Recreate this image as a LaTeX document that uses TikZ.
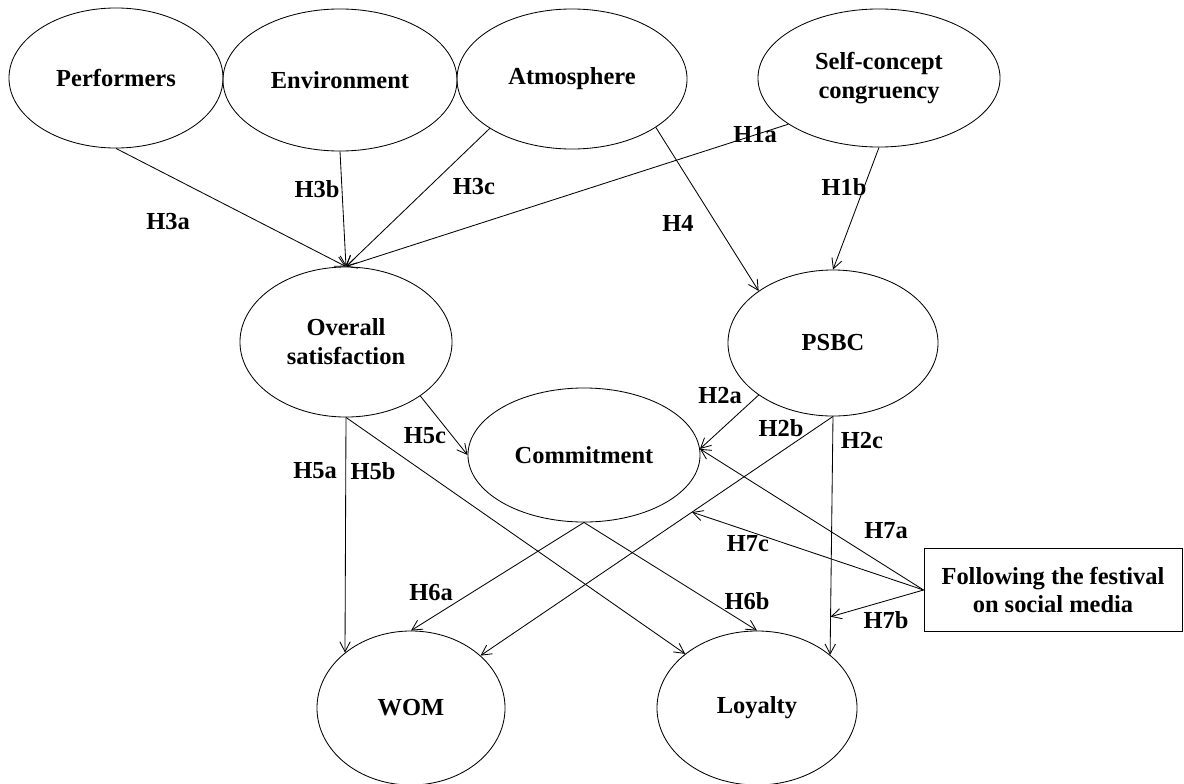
\documentclass[tikz,border=0pt]{standalone}
\usepackage{fontspec}
\setmainfont{Liberation Serif}
\usetikzlibrary{shapes.geometric,arrows.meta}

\begin{document}
\begin{tikzpicture}[x=0.025cm, y=-0.025cm,
        construct/.style={draw=black, ellipse, inner sep=0pt, line width=0.6pt, align=center, font=\fontsize{17.4}{20.5}\selectfont\bfseries},
        moderator/.style={draw=black, rectangle, inner sep=0pt, line width=0.6pt, align=center, font=\fontsize{17.4}{20}\selectfont\bfseries},
        hyp/.style={inner sep=0pt, font=\fontsize{17.4}{20}\selectfont\bfseries},
        link/.style={draw=black, line width=0.6pt, -{Straight Barb[length=2.5mm,width=2.6mm]}}]
            \useasboundingbox (0,0) rectangle (1184,783);
            \node[construct, minimum width=5.35cm, minimum height=3.5cm] (perf) at (116,78) {Performers};
            \node[construct, minimum width=5.85cm, minimum height=3.55cm] (env) at (340,80) {Environment};
            \node[construct, minimum width=5.75cm, minimum height=3.5cm] (atm) at (572,79) {Atmosphere};
            \node[construct, minimum width=6.05cm, minimum height=3.45cm] (scc) at (879,78) {Self-concept\\congruency};
            \node[construct, minimum width=5.3cm, minimum height=3.75cm] (sat) at (346,342) {Overall\\satisfaction};
            \node[construct, minimum width=5.25cm, minimum height=3.65cm] (psbc) at (833,343) {PSBC};
            \node[construct, minimum width=5.8cm, minimum height=3.35cm] (com) at (584,455) {Commitment};
            \node[construct, minimum width=4.7cm, minimum height=3.85cm] (wom) at (411,708) {WOM};
            \node[construct, minimum width=5.0cm, minimum height=3.85cm] (loy) at (757,708) {Loyalty};
            \node[moderator, minimum width=6.45cm, minimum height=2.075cm] (social) at (1053,590) {Following the festival\\on social media};

            \draw[link] (perf.south) -- (sat.north);
            \draw[link] (env.south) -- (sat.north);
            \draw[link] (atm.211) -- (sat.north);
            \draw[link] (scc.207) -- (sat.north);
            \draw[link] (atm.330) -- (psbc.145);
            \draw[link] (scc.south) -- (psbc.north);
            \draw[link] (sat.south) -- (wom.140);
            \draw[link] (sat.south) -- (loy.143);
            \draw[link] (sat.324) -- (com.west);
            \draw[link] (psbc.215) -- (com.3);
            \draw[link] (psbc.south) -- coordinate[pos=0.4] (h2bmid) (wom.37);
            \draw[link] (psbc.south) -- coordinate[pos=0.84] (h2cmid) (loy.36);
            \draw[link] (com.south) -- (wom.north);
            \draw[link] (com.south) -- (loy.north);
            \draw[link] (social.west) -- (com.3);
            \draw[link] (social.west) -- (h2bmid);
            \draw[link] (social.west) -- (h2cmid);

            \node[hyp] (h3a) at (168,222) {H3a};
            \node[hyp] (h3b) at (317,189) {H3b};
            \node[hyp] (h3c) at (474,187) {H3c};
            \node[hyp] (h1a) at (755,135) {H1a};
            \node[hyp] (h4) at (678,223) {H4};
            \node[hyp] (h1b) at (844,187) {H1b};
            \node[hyp] (h2a) at (720,396) {H2a};
            \node[hyp] (h2b) at (781,428) {H2b};
            \node[hyp] (h2c) at (862,441) {H2c};
            \node[hyp] (h5c) at (425,436) {H5c};
            \node[hyp] (h5a) at (315,471) {H5a};
            \node[hyp] (h5b) at (373,471) {H5b};
            \node[hyp] (h6a) at (431,593) {H6a};
            \node[hyp] (h6b) at (747,601) {H6b};
            \node[hyp] (h7c) at (748,544) {H7c};
            \node[hyp] (h7a) at (886,531) {H7a};
            \node[hyp] (h7b) at (886,620) {H7b};
        \end{tikzpicture}
\end{document}
